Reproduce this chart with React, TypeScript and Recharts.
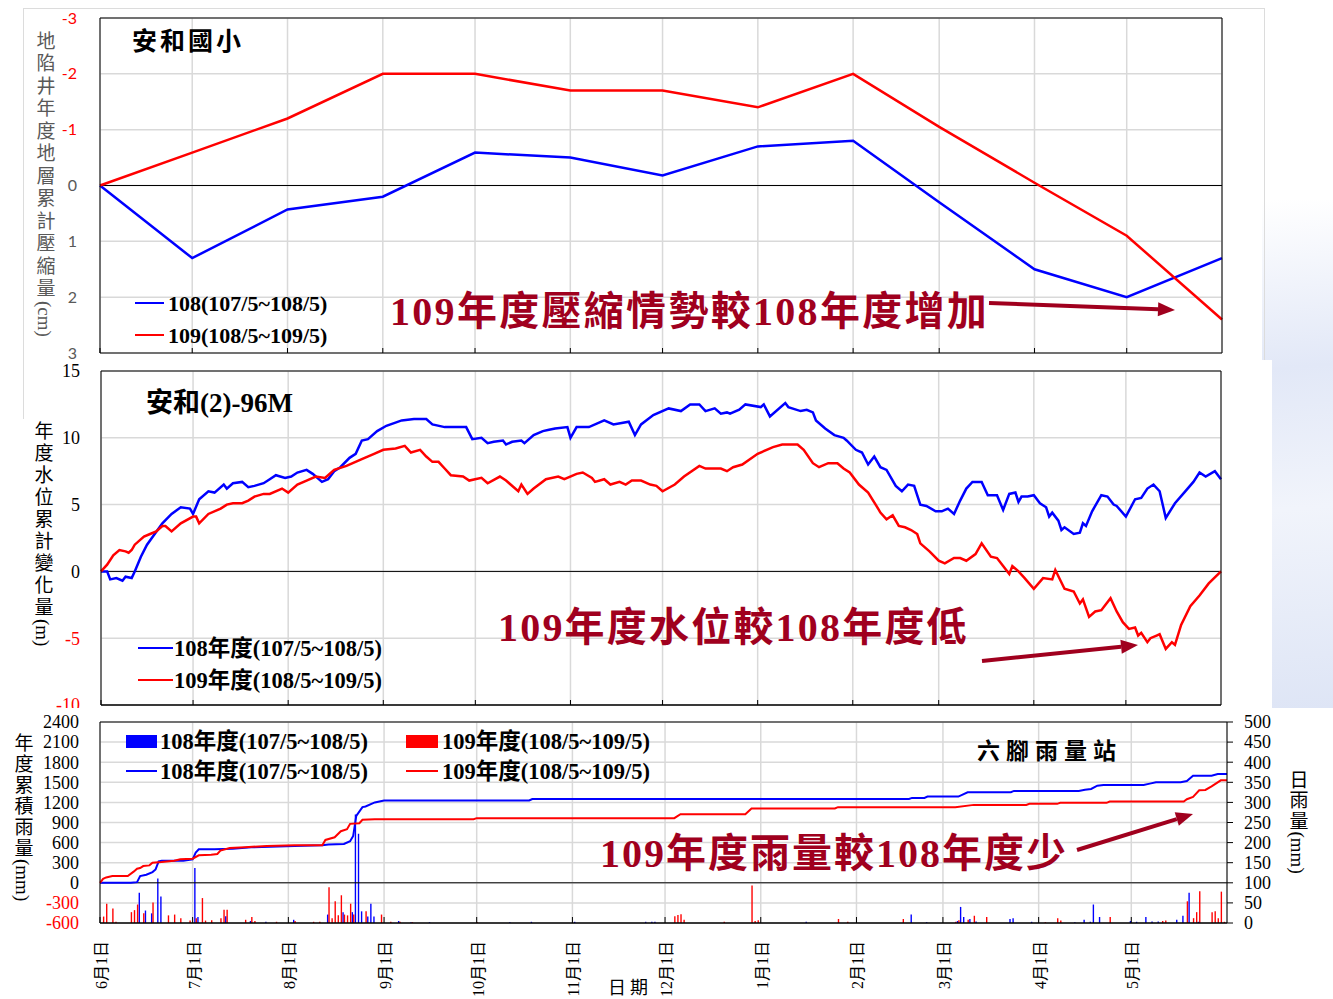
import React from "react";
import {
  ComposedChart,
  LineChart,
  Line,
  Bar,
  XAxis,
  YAxis,
  CartesianGrid,
  ReferenceLine,
} from "recharts";

const SERIF = "'Liberation Serif', 'Noto Sans CJK TC', serif";
const SANS = "Lato, 'Noto Sans CJK TC', sans-serif";
const DARK_RED = "#a0001e";
const BLUE = "#0000ff";
const RED = "#ff0000";
const GRID = "#d9d9d9";

// day index from 6/1 (day 0) to 5/31 (day 365)
const monthDays = [0, 30, 61, 92, 122, 153, 183, 214, 245, 273, 304, 334];
const monthLabels = ["6月1日", "7月1日", "8月1日", "9月1日", "10月1日", "11月1日", "12月1日", "1月1日", "2月1日", "3月1日", "4月1日", "5月1日"];

// 地陷井 cumulative compaction (cm), monthly
const subsidenceDays = [0, 30, 61, 92, 122, 153, 183, 214, 245, 273, 304, 334, 365];
const subsidence108 = [0, 1.3, 0.43, 0.2, -0.59, -0.5, -0.18, -0.7, -0.8, 0.3, 1.5, 2.0, 1.3];
const subsidence109 = [0, -0.59, -1.2, -2.0, -2.0, -1.7, -1.7, -1.4, -2.0, -1.05, -0.05, 0.9, 2.4];

// 安和(2)-96M water level change (m)
const level108Days = [0, 2, 3, 5, 7, 8, 10, 11, 13, 15, 20, 23, 26, 29, 30, 32, 35, 37, 40, 41, 43, 46, 48, 50, 53, 55, 57, 60, 62, 64, 67, 69, 72, 74, 76, 78, 81, 83, 85, 87, 90, 93, 98, 102, 106, 108, 112, 115, 119, 121, 124, 126, 128, 131, 132, 134, 137, 138, 141, 144, 146, 148, 152, 153, 155, 159, 164, 167, 172, 174, 176, 180, 185, 189, 192, 195, 197, 200, 202, 204, 205, 208, 210, 215, 216, 218, 223, 224, 228, 230, 232, 233, 236, 239, 242, 243, 246, 248, 250, 252, 254, 256, 259, 261, 263, 265, 267, 269, 272, 274, 276, 278, 280, 282, 284, 287, 289, 292, 294, 296, 298, 299, 300, 302, 304, 306, 308, 309, 310, 312, 313, 314, 317, 319, 320, 321, 323, 326, 328, 330, 331, 334, 337, 339, 341, 343, 345, 347, 350, 353, 356, 358, 360, 363, 365];
const level108 = [0, 0, -0.6, -0.5, -0.7, -0.4, -0.5, 0, 1.1, 2.0, 3.6, 4.3, 4.8, 4.7, 4.3, 5.4, 6.0, 5.9, 6.5, 6.2, 6.6, 6.7, 6.3, 6.4, 6.6, 6.9, 7.2, 7.0, 7.1, 7.4, 7.6, 7.3, 6.7, 6.9, 7.5, 7.8, 8.5, 8.8, 9.8, 9.9, 10.5, 10.9, 11.3, 11.4, 11.4, 11.0, 10.8, 10.8, 10.8, 9.9, 10.0, 9.6, 9.7, 9.8, 9.5, 9.7, 9.8, 9.6, 10.2, 10.5, 10.6, 10.7, 10.8, 10.0, 10.8, 10.8, 11.3, 11.0, 11.2, 10.2, 11.0, 11.7, 12.2, 12.0, 12.5, 12.5, 12.0, 12.2, 11.8, 11.9, 11.8, 12.1, 12.5, 12.3, 12.5, 11.6, 12.6, 12.3, 12.0, 12.1, 11.9, 11.3, 10.7, 10.2, 10.0, 9.8, 9.1, 8.9, 8.0, 8.6, 7.8, 7.6, 6.4, 6.0, 6.5, 6.4, 5.0, 4.9, 4.5, 4.5, 4.7, 4.3, 5.3, 6.2, 6.7, 6.7, 5.7, 5.7, 4.6, 5.8, 5.9, 5.2, 5.6, 5.6, 5.7, 5.1, 4.8, 4.1, 4.4, 3.8, 3.1, 3.3, 2.8, 2.9, 3.6, 3.4, 4.5, 5.7, 5.6, 5.0, 4.9, 4.1, 5.4, 5.5, 6.2, 6.5, 6.0, 4.0, 5.1, 5.9, 6.7, 7.4, 7.1, 7.5, 6.9];
const level109Days = [0, 2, 4, 6, 8, 9, 10, 11, 14, 16, 18, 20, 21, 23, 26, 30, 31, 32, 35, 39, 41, 43, 46, 48, 50, 53, 55, 59, 61, 64, 67, 70, 73, 76, 80, 85, 89, 92, 96, 99, 101, 104, 106, 108, 110, 112, 114, 118, 120, 124, 126, 130, 132, 136, 137, 139, 141, 145, 149, 151, 155, 157, 160, 161, 164, 166, 169, 171, 173, 176, 179, 181, 183, 187, 190, 195, 197, 202, 204, 206, 209, 214, 219, 222, 227, 229, 232, 234, 237, 240, 242, 244, 247, 250, 253, 254, 256, 258, 260, 262, 264, 266, 267, 270, 273, 275, 278, 280, 282, 285, 287, 290, 292, 294, 296, 297, 299, 301, 304, 307, 310, 311, 314, 317, 319, 320, 322, 324, 326, 329, 331, 333, 335, 337, 338, 339, 341, 342, 344, 345, 347, 349, 350, 352, 355, 358, 361, 365];
const level109 = [0, 0.5, 1.2, 1.6, 1.5, 1.4, 1.6, 2.0, 2.6, 2.8, 3.0, 3.4, 3.4, 3.0, 3.6, 4.1, 4.1, 3.6, 4.3, 4.7, 5.0, 5.1, 5.1, 5.3, 5.6, 5.8, 5.8, 6.2, 5.9, 6.5, 6.8, 7.1, 7.0, 7.6, 7.9, 8.4, 8.8, 9.1, 9.2, 9.4, 8.9, 9.1, 8.6, 8.2, 8.2, 7.7, 7.2, 7.1, 6.8, 7.0, 6.6, 7.1, 6.8, 6.0, 6.5, 5.8, 6.2, 6.9, 7.1, 6.9, 7.3, 7.4, 7.0, 6.7, 6.9, 6.5, 6.7, 6.5, 6.8, 6.8, 6.5, 6.4, 6.0, 6.5, 7.1, 7.9, 7.7, 7.7, 7.5, 7.8, 8.0, 8.8, 9.3, 9.5, 9.5, 9.1, 8.1, 7.8, 8.1, 8.1, 7.7, 7.4, 6.5, 5.9, 4.8, 4.4, 3.9, 4.2, 3.4, 3.3, 3.1, 2.8, 2.1, 1.5, 0.8, 0.6, 1.0, 1.0, 0.8, 1.3, 2.1, 1.1, 1.0, 0.4, -0.2, 0.4, 0.0, -0.5, -1.3, -0.5, -0.6, 0.1, -1.3, -1.5, -2.4, -2.1, -3.4, -3.0, -2.9, -2.0, -3.0, -3.8, -4.3, -4.2, -4.8, -4.6, -5.3, -5.0, -4.8, -4.7, -5.8, -5.3, -5.5, -4.0, -2.6, -1.8, -0.9, 0];

// 六腳雨量站 cumulative rainfall (mm)
const cum108Days = [0, 10, 12, 13, 15, 17, 18, 19, 20, 27, 30, 31, 32, 37, 43, 49, 63, 72, 74, 79, 81, 82, 83, 85, 86, 89, 92, 139, 140, 262, 263, 267, 268, 278, 281, 295, 296, 317, 319, 321, 323, 325, 338, 340, 342, 350, 352, 354, 360, 362, 365];
const cum108 = [0, 0, 10, 100, 120, 160, 200, 320, 330, 330, 350, 450, 500, 500, 510, 530, 550, 560, 570, 580, 620, 700, 1000, 1130, 1140, 1200, 1228, 1228, 1250, 1250, 1267, 1267, 1287, 1287, 1351, 1351, 1371, 1371, 1390, 1400, 1450, 1460, 1460, 1480, 1500, 1500, 1520, 1599, 1599, 1624, 1624];
const cum109Days = [0, 1, 2, 4, 9, 11, 12, 13, 14, 16, 17, 20, 24, 26, 30, 32, 36, 38, 39, 42, 47, 54, 63, 72, 73, 76, 78, 80, 81, 84, 85, 89, 121, 122, 186, 188, 209, 211, 238, 239, 277, 283, 300, 301, 310, 311, 326, 327, 351, 352, 354, 356, 358, 360, 363, 365];
const cum109 = [0, 60, 80, 100, 100, 170, 210, 220, 250, 260, 300, 310, 330, 350, 360, 410, 420, 430, 480, 520, 530, 550, 560, 560, 640, 680, 770, 800, 880, 890, 940, 950, 950, 965, 965, 1025, 1025, 1110, 1110, 1129, 1129, 1163, 1163, 1178, 1178, 1193, 1193, 1213, 1213, 1247, 1282, 1381, 1386, 1440, 1530, 1530];

// daily rainfall (mm)
const rain108Days = [13, 15, 17, 19, 20, 31, 32, 41, 49, 54, 63, 74, 79, 82, 83, 84, 85, 87, 88, 89, 97, 101, 107, 133, 140, 154, 177, 179, 180, 229, 263, 268, 278, 279, 280, 282, 284, 295, 296, 302, 316, 319, 321, 322, 324, 334, 336, 339, 341, 343, 349, 351, 353, 356];
const rain108 = [75, 31, 24, 111, 66, 137, 15, 17, 5, 3, 8, 21, 27, 27, 270, 222, 29, 16, 48, 16, 5, 2, 2, 2, 3, 3, 3, 3, 3, 3, 21, 2, 5, 40, 15, 10, 4, 10, 12, 3, 2, 8, 3, 46, 15, 5, 3, 15, 4, 4, 8, 18, 75, 3];
const rain109Days = [1, 2, 4, 5, 10, 11, 12, 14, 17, 22, 24, 26, 29, 31, 33, 34, 36, 39, 40, 41, 47, 49, 50, 57, 63, 69, 71, 74, 75, 76, 77, 78, 79, 80, 81, 82, 86, 91, 94, 97, 101, 122, 186, 187, 188, 189, 202, 211, 212, 213, 239, 242, 260, 277, 278, 281, 283, 287, 306, 310, 311, 327, 344, 345, 352, 354, 355, 356, 360, 361, 362, 363, 364];
const rain109 = [16, 48, 36, 3, 27, 32, 46, 24, 51, 19, 21, 12, 6, 12, 62, 6, 7, 12, 33, 33, 8, 15, 5, 3, 5, 3, 3, 89, 12, 54, 19, 69, 21, 19, 48, 21, 29, 21, 3, 3, 2, 2, 17, 20, 22, 8, 3, 93, 5, 7, 10, 3, 10, 3, 7, 8, 18, 15, 2, 12, 6, 15, 5, 6, 54, 12, 27, 79, 27, 29, 12, 78, 3];

const subsidenceData = subsidenceDays.map((day, i) => ({ day, s108: subsidence108[i], s109: subsidence109[i] }));
const toPoints = (days: number[], vals: number[]) => days.map((day, i) => ({ day, v: vals[i] }));
const level108Points = toPoints(level108Days, level108);
const level109Points = toPoints(level109Days, level109);
const cum108Points = toPoints(cum108Days, cum108);
const cum109Points = toPoints(cum109Days, cum109);

const rainTable: { day: number; r108: number | null; r109: number | null }[] = Array.from(
  { length: 366 },
  (_, day) => ({ day, r108: null, r109: null })
);
rain108Days.forEach((d, i) => (rainTable[d].r108 = rain108[i]));
rain109Days.forEach((d, i) => (rainTable[d].r109 = rain109[i]));

const leftTick = (x: number, size: number, family: string, neg: string, pos: string) => (p: any) => (
  <text x={x} y={p.y} dy="0.35em" textAnchor="end" fontSize={size} fontFamily={family} fill={p.payload.value < 0 ? neg : pos}>
    {p.payload.value}
  </text>
);

const rightTick = (x: number, size: number, family: string, neg: string, pos: string) => (p: any) => (
  <text x={x} y={p.y} dy="0.35em" textAnchor="start" fontSize={size} fontFamily={family} fill={p.payload.value < 0 ? neg : pos}>
    {p.payload.value}
  </text>
);

const innerTick = (p: any) => <line x1={p.x} x2={p.x} y1={p.y} y2={p.y - 5} stroke="#000" strokeWidth={1} />;

const dateTick = (p: any) => {
  const i = monthDays.indexOf(p.payload.value);
  return (
    <g>
      <line x1={p.x} x2={p.x} y1={p.y} y2={p.y - 6} stroke="#000" strokeWidth={1} />
      <text
        transform={`translate(${p.x + 7},${p.y + 18}) rotate(-90)`}
        textAnchor="end"
        fontSize={16}
        fontFamily={SERIF}
        fill="#000"
      >
        {monthLabels[i]}
      </text>
    </g>
  );
};

const Txt = ({ x, y, size, bold, color, spacing, children }: any) => (
  <div
    style={{
      position: "absolute",
      left: x,
      top: y - size / 2,
      fontSize: size,
      lineHeight: `${size}px`,
      fontWeight: bold ? 700 : 400,
      color: color || "#000",
      letterSpacing: spacing || 0,
      whiteSpace: "nowrap",
      fontFamily: SERIF,
    }}
  >
    {children}
  </div>
);

// vertical axis title: CJK upright, unit rotated and kept tight
const VText = ({ cx, top, size, spacing, color, text, unit }: any) => (
  <div
    style={{
      position: "absolute",
      left: cx - size / 2,
      top,
      width: size,
      writingMode: "vertical-rl",
      textOrientation: "mixed",
      fontSize: size,
      lineHeight: `${size}px`,
      color,
      whiteSpace: "nowrap",
      fontFamily: SERIF,
    }}
  >
    <span style={{ letterSpacing: spacing }}>{text}</span>
    <span>{unit}</span>
  </div>
);

const LegendLine = ({ x, y, w, color }: any) => (
  <div style={{ position: "absolute", left: x, top: y - 1.25, width: w, height: 2.5, background: color }} />
);

const LegendBox = ({ x, y, w, h, color }: any) => (
  <div style={{ position: "absolute", left: x, top: y - h / 2, width: w, height: h, background: color }} />
);

const arrows = [
  { x1: 989, y1: 303, x2: 1175, y2: 310 },
  { x1: 982, y1: 661, x2: 1138, y2: 645 },
  { x1: 1077, y1: 850, x2: 1193, y2: 814 },
];

const Arrow = ({ x1, y1, x2, y2 }: any) => {
  const a = Math.atan2(y2 - y1, x2 - x1);
  const len = 17;
  const half = 7;
  const bx = x2 - len * Math.cos(a);
  const by = y2 - len * Math.sin(a);
  const px = -Math.sin(a) * half;
  const py = Math.cos(a) * half;
  return (
    <g>
      <line x1={x1} y1={y1} x2={bx} y2={by} stroke={DARK_RED} strokeWidth={4} />
      <polygon points={`${x2},${y2} ${bx + px},${by + py} ${bx - px},${by - py}`} fill={DARK_RED} />
    </g>
  );
};

const SubsidenceChart = () => (
  <LineChart width={1333} height={380} data={subsidenceData} margin={{ top: 18, right: 0, bottom: 26, left: 0 }}>
    <CartesianGrid stroke={GRID} strokeWidth={1.5} yAxisId="l" />
    <XAxis dataKey="day" type="number" domain={[0, 365]} ticks={monthDays} interval={0} height={1} axisLine={false} tickLine={false} tickSize={0} tickMargin={0} tick={innerTick} />
    <YAxis yAxisId="l" domain={[-3, 3]} reversed ticks={[-3, -2, -1, 0, 1, 2, 3]} interval={0} width={100} axisLine={{ stroke: "#000" }} tickLine={false} tick={leftTick(77, 16, SANS, RED, "#595959")} />
    <YAxis yAxisId="r" orientation="right" domain={[-3, 3]} reversed ticks={[-3, -2, -1, 0, 1, 2, 3]} interval={0} width={111} axisLine={{ stroke: "#000" }} tickLine={{ stroke: "#000" }} tickSize={7} tick={rightTick(1243, 16, SANS, RED, "#595959")} />
    <ReferenceLine yAxisId="l" y={0} stroke="#000" />
    <ReferenceLine yAxisId="l" y={-3} stroke="#000" />
    <ReferenceLine yAxisId="l" y={3} stroke="#000" />
    <Line yAxisId="l" dataKey="s108" stroke={BLUE} strokeWidth={2.5} dot={false} activeDot={false} isAnimationActive={false} />
    <Line yAxisId="l" dataKey="s109" stroke={RED} strokeWidth={2.5} dot={false} activeDot={false} isAnimationActive={false} />
  </LineChart>
);

const LevelChart = () => (
  <LineChart width={1333} height={360} margin={{ top: 11, right: 0, bottom: 14, left: 0 }}>
    <CartesianGrid stroke={GRID} strokeWidth={1.5} yAxisId="l" />
    <XAxis dataKey="day" type="number" domain={[0, 365]} ticks={monthDays} interval={0} height={1} axisLine={false} tickLine={false} tickSize={0} tickMargin={0} tick={innerTick} />
    <YAxis yAxisId="l" domain={[-10, 15]} ticks={[-10, -5, 0, 5, 10, 15]} interval={0} width={101} axisLine={{ stroke: "#000" }} tickLine={false} tick={leftTick(80, 18, SERIF, RED, "#000")} />
    <YAxis yAxisId="r" orientation="right" domain={[-10, 15]} ticks={[-10, -5, 0, 5, 10, 15]} interval={0} width={112} axisLine={{ stroke: "#000" }} tickLine={{ stroke: "#000" }} tickSize={7} tick={rightTick(1238, 18, SERIF, RED, "#000")} />
    <ReferenceLine yAxisId="l" y={0} stroke="#000" />
    <ReferenceLine yAxisId="l" y={15} stroke="#000" />
    <ReferenceLine yAxisId="l" y={-10} stroke="#000" strokeWidth={1.5} />
    <Line yAxisId="l" data={level108Points} dataKey="v" stroke={BLUE} strokeWidth={2.5} dot={false} activeDot={false} isAnimationActive={false} />
    <Line yAxisId="l" data={level109Points} dataKey="v" stroke={RED} strokeWidth={2.5} dot={false} activeDot={false} isAnimationActive={false} />
  </LineChart>
);

const RainChart = () => (
  <ComposedChart width={1333} height={291} data={rainTable} barGap={0} barCategoryGap={0} margin={{ top: 14, right: 0, bottom: 0, left: 0 }}>
    <CartesianGrid stroke={GRID} strokeWidth={1.5} yAxisId="l" />
    <XAxis dataKey="day" type="number" domain={[0, 365]} ticks={monthDays} interval={0} height={76} axisLine={false} tickLine={false} tickSize={0} tickMargin={0} tick={dateTick} />
    <YAxis yAxisId="l" domain={[-600, 2400]} ticks={[-600, -300, 0, 300, 600, 900, 1200, 1500, 1800, 2100, 2400]} interval={0} width={100} axisLine={{ stroke: "#000" }} tickLine={false} tick={leftTick(79, 18, SERIF, RED, "#000")} />
    <YAxis yAxisId="r" orientation="right" domain={[0, 500]} ticks={[0, 50, 100, 150, 200, 250, 300, 350, 400, 450, 500]} interval={0} width={106} axisLine={{ stroke: "#000" }} tickLine={{ stroke: "#000" }} tickSize={6} tick={rightTick(1244, 18, SERIF, RED, "#000")} />
    <ReferenceLine yAxisId="l" y={0} stroke="#000" />
    <ReferenceLine yAxisId="l" y={2400} stroke="#000" />
    <ReferenceLine yAxisId="l" y={-600} stroke="#000" strokeWidth={1.5} />
    <Bar yAxisId="r" dataKey="r108" fill={BLUE} barSize={2} isAnimationActive={false} />
    <Bar yAxisId="r" dataKey="r109" fill={RED} barSize={2} isAnimationActive={false} />
    <Line yAxisId="l" data={cum108Points} dataKey="v" stroke={BLUE} strokeWidth={2} dot={false} activeDot={false} isAnimationActive={false} />
    <Line yAxisId="l" data={cum109Points} dataKey="v" stroke={RED} strokeWidth={2} dot={false} activeDot={false} isAnimationActive={false} />
  </ComposedChart>
);

export default function App() {
  return (
    <div style={{ position: "absolute", left: 0, top: 0, width: 1333, height: 999, background: "#fff", overflow: "hidden", fontFamily: SERIF }}>
      <div
        style={{
          position: "absolute",
          left: 1262,
          top: 200,
          width: 71,
          height: 560,
          background: "linear-gradient(175deg, rgba(255,255,255,0) 0%, #e2e8f7 30%, #f1f4fb 55%, #d9e1f4 100%)",
        }}
      />
      <div style={{ position: "absolute", left: 23, top: 8, width: 1240, height: 409, border: "1px solid #dcdcdc" }} />

      {/* top: 地陷井 */}
      <div style={{ position: "absolute", left: 0, top: 0, width: 1333, height: 360, overflow: "hidden" }}>
        <SubsidenceChart />
      </div>
      <VText cx={44} top={31} size={19} spacing={3.5} color="#595959" text="地陷井年度地層累計壓縮量" unit="(cm)" />
      <Txt x={132} y={41} size={25} bold spacing={3}>安和國小</Txt>
      <LegendLine x={135} y={303} w={29} color={BLUE} />
      <Txt x={168} y={304} size={22} bold>108(107/5~108/5)</Txt>
      <LegendLine x={135} y={335} w={29} color={RED} />
      <Txt x={168} y={336} size={22} bold>109(108/5~109/5)</Txt>
      <Txt x={390} y={312} size={40} bold spacing={2.3} color={DARK_RED}>109年度壓縮情勢較108年度增加</Txt>

      {/* middle: water level */}
      <div style={{ position: "absolute", left: 24, top: 360, width: 1248, height: 350, background: "#fff" }} />
      <div style={{ position: "absolute", left: 0, top: 360, width: 1333, height: 348, overflow: "hidden" }}>
        <LevelChart />
      </div>
      <VText cx={42} top={421} size={19} spacing={3} color="#000" text="年度水位累計變化量" unit="(m)" />
      <Txt x={146} y={403} size={27} bold>安和(2)-96M</Txt>
      <LegendLine x={138} y={648} w={35} color={BLUE} />
      <Txt x={174} y={649} size={22.5} bold>108年度(107/5~108/5)</Txt>
      <LegendLine x={138} y={680} w={35} color={RED} />
      <Txt x={174} y={681} size={22.5} bold>109年度(108/5~109/5)</Txt>
      <Txt x={498} y={628} size={40} bold spacing={2.2} color={DARK_RED}>109年度水位較108年度低</Txt>

      {/* bottom: rainfall */}
      <div style={{ position: "absolute", left: 0, top: 708, width: 1333, height: 291, background: "#fff" }} />
      <div style={{ position: "absolute", left: 0, top: 708 }}>
        <RainChart />
      </div>
      <VText cx={22} top={733} size={19} spacing={2} color="#000" text="年度累積雨量" unit="(mm)" />
      <VText cx={1297} top={770} size={19} spacing={1.5} color="#000" text="日雨量" unit="(mm)" />
      <LegendBox x={126} y={741} w={31} h={13} color={BLUE} />
      <Txt x={160} y={742} size={22.5} bold>108年度(107/5~108/5)</Txt>
      <LegendBox x={406} y={741} w={32} h={13} color={RED} />
      <Txt x={442} y={742} size={22.5} bold>109年度(108/5~109/5)</Txt>
      <LegendLine x={126} y={771} w={31} color={BLUE} />
      <Txt x={160} y={772} size={22.5} bold>108年度(107/5~108/5)</Txt>
      <LegendLine x={406} y={771} w={32} color={RED} />
      <Txt x={442} y={772} size={22.5} bold>109年度(108/5~109/5)</Txt>
      <Txt x={977} y={751} size={23} bold spacing={6}>六腳雨量站</Txt>
      <Txt x={600} y={854} size={40} bold spacing={2} color={DARK_RED}>109年度雨量較108年度少</Txt>
      <Txt x={608} y={988} size={18} spacing={4}>日期</Txt>

      <svg width={1333} height={999} style={{ position: "absolute", left: 0, top: 0, pointerEvents: "none" }}>
        {arrows.map((a, i) => (
          <Arrow key={i} {...a} />
        ))}
      </svg>
    </div>
  );
}
